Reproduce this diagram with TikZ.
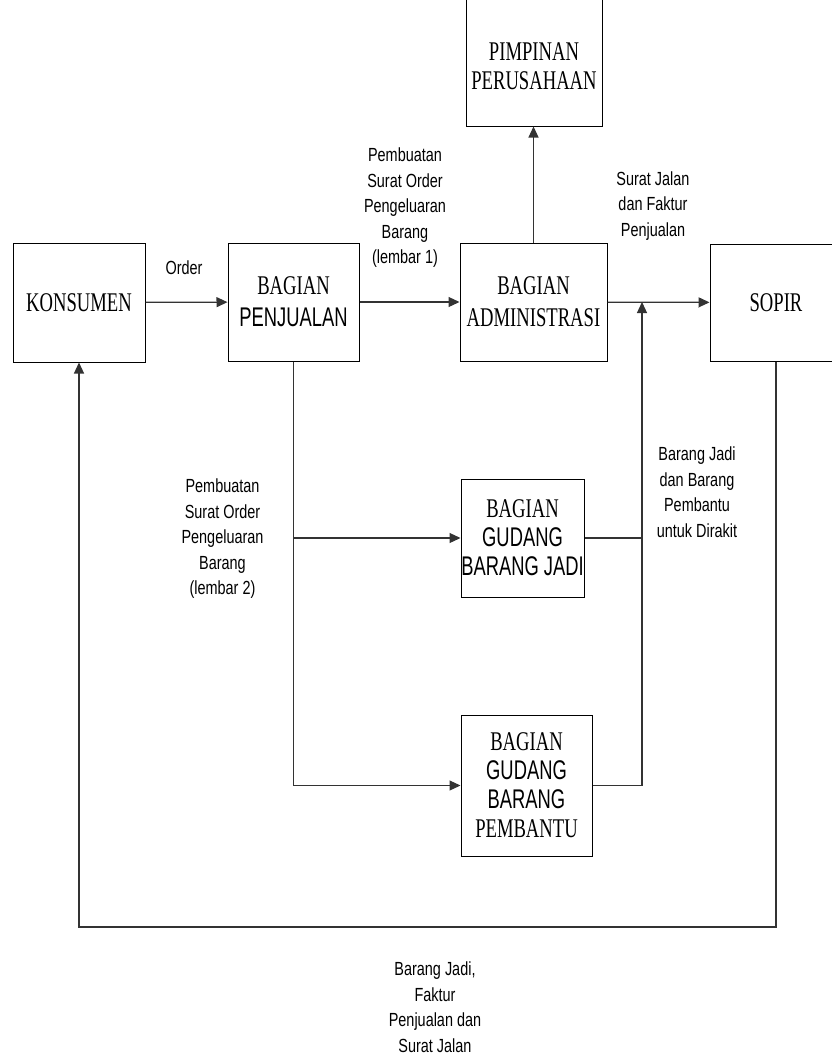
\documentclass[tikz,border=0pt]{standalone}
\usepackage{fontspec}
\setmainfont{Liberation Serif}
\newfontfamily\boxserif[FakeStretch=0.69]{Liberation Serif}
\newfontfamily\boxsans[FakeStretch=0.68]{Liberation Sans}
\newfontfamily\lblsans[FakeStretch=0.76]{Liberation Sans}
\usetikzlibrary{arrows.meta}

\begin{document}
\begin{tikzpicture}[x=1pt,y=-1pt,
  unitbox/.style={draw=black, line width=1pt, rectangle, inner sep=0pt,
    align=center, font=\fontsize{27}{32}\selectfont},
  storebox/.style={unitbox, font=\fontsize{27}{29}\selectfont},
  flow/.style={draw=black!80, line width=1.2pt},
  arr/.style={flow, -{Triangle[length=11pt,width=10pt]}},
  lbl/.style={align=center, inner sep=0pt,
    font=\lblsans\fontsize{19}{25.5}\selectfont}]

\useasboundingbox (0,0) rectangle (832,1057);
\clip (0,0) rectangle (832,1057);

% units
\node[unitbox, minimum width=136pt, minimum height=146pt] (pim) at (534,53) {};
\node[align=center, inner sep=0pt, font=\fontsize{27}{29}\selectfont] (pimtxt) at (534,66)
  {\boxserif PIMPINAN\\\boxserif PERUSAHAAN};
\node[unitbox, minimum width=132pt, minimum height=119pt] (kon) at (79,302.5)
  {\boxserif KONSUMEN};
\node[unitbox, minimum width=131pt, minimum height=118pt] (pen) at (293.5,302)
  {\boxserif BAGIAN\\\boxsans PENJUALAN};
\node[unitbox, minimum width=147pt, minimum height=118pt] (adm) at (533.5,302)
  {\boxserif BAGIAN\\\boxserif ADMINISTRASI};
\node[unitbox, minimum width=132pt, minimum height=117pt] (sop) at (776,302.5)
  {\boxserif SOPIR};
\node[storebox, minimum width=123pt, minimum height=118pt] (gj) at (522.5,538)
  {\boxserif BAGIAN\\\boxsans GUDANG\\\boxsans BARANG JADI};
\node[storebox, minimum width=131pt, minimum height=141pt] (pem) at (526.5,785.5)
  {\boxserif BAGIAN\\\boxsans GUDANG\\\boxsans BARANG\\\boxserif PEMBANTU};

% junction points
\coordinate (mrg) at (642,302);
\coordinate (split) at (pen.south |- gj.west);
\coordinate (loop) at (79,927);

% connectors
\draw[arr] (kon) -- (pen);
\draw[arr] (pen) -- (adm);
\draw[arr] (adm) -- (sop);
\draw[arr] (adm.north) -- (adm.north |- pim.south);
\draw[arr] (pen.south) |- (pem.west);
\draw[arr] (split) -- (gj.west);
\draw[flow] (gj.east) -- (gj.east -| mrg);
\draw[arr] (pem.east) -| (mrg);
\draw[arr] (sop.south) |- (loop) -- (kon.south);

% labels
\node[lbl] (lorder) at (184,268) {Order};
\node[lbl] (lsop1) at (405,208) {Pembuatan\\Surat Order\\Pengeluaran\\Barang\\(lembar 1)};
\node[lbl] (lsj) at (653,206) {Surat Jalan\\dan Faktur\\Penjualan};
\node[lbl] (lbj) at (697,492) {Barang Jadi\\dan Barang\\Pembantu\\untuk Dirakit};
\node[lbl] (lsop2) at (222.5,539) {Pembuatan\\Surat Order\\Pengeluaran\\Barang\\(lembar 2)};
\node[lbl] (lret) at (435,1007) {Barang Jadi,\\Faktur\\Penjualan dan\\Surat Jalan};
\end{tikzpicture}
\end{document}
